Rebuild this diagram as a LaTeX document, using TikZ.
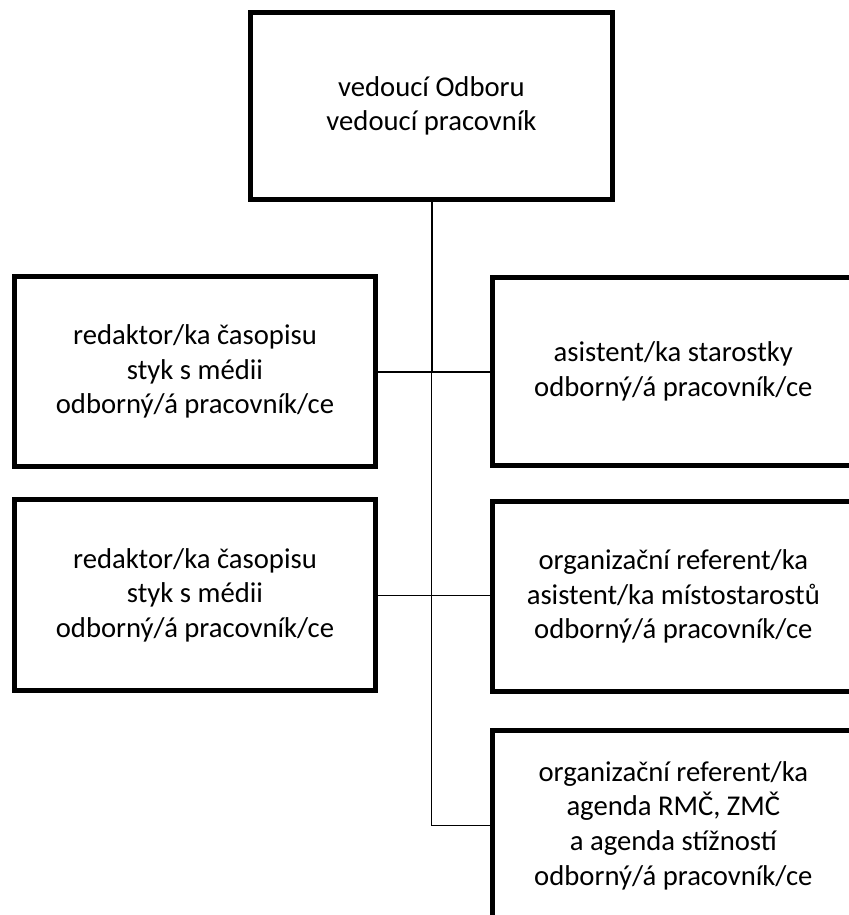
\documentclass[tikz,border=0pt]{standalone}
\usepackage{fontspec}
\setmainfont{Carlito}
\usetikzlibrary{positioning}

\begin{document}
\begin{tikzpicture}[
    x=0.75pt, y=-0.75pt,
    post/.style={rectangle, draw=black, line width=3.75pt, minimum width=271pt, minimum height=143pt, align=center, inner sep=0pt, font=\fontsize{21.5}{26}\selectfont},
    link/.style={draw=black, line width=1.5pt},
    thinlink/.style={draw=black, line width=0.8pt}
]
\useasboundingbox (0,0) rectangle (849,915);
\clip (0,0) rectangle (849,915);
% head of the department on top, the staff in two columns below it
\node[post, minimum height=140pt] (V) at (431.5,106) {vedoucí Odboru\\vedoucí pracovník};
\node[post] (L1) at (195,371.5) {redaktor/ka časopisu\\styk s médii\\odborný/á pracovník/ce};
\node[post, below=21pt of L1] (L2) {redaktor/ka časopisu\\styk s médii\\odborný/á pracovník/ce};
\node[post, minimum height=141pt, right=84pt of L1] (R1) {asistent/ka starostky\\odborný/á pracovník/ce};
\node[post, below=23pt of R1] (R2) {organizační referent/ka\\asistent/ka místostarostů\\odborný/á pracovník/ce};
\node[post, below=25pt of R2] (R3) {organizační referent/ka\\agenda RMČ, ZMČ\\a agenda stížností\\odborný/á pracovník/ce};

\draw[link] (V.south) -- (V.south |- L1.east);
\draw[link] (L1.east) -- (L1.east -| R1.west);
\draw[thinlink] (V.south |- L1.east) -- (V.south |- R3.west) -- (R3.west);
\draw[thinlink] (L2.east) -- (L2.east -| R2.west);
\end{tikzpicture}
\end{document}
